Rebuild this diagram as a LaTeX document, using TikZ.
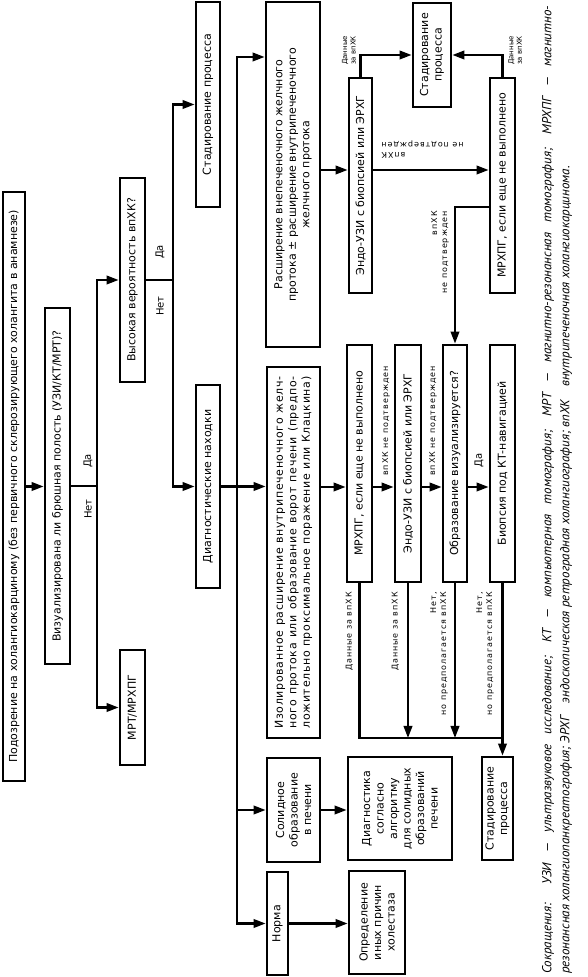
\documentclass[tikz,border=0pt]{standalone}
\usepackage{fontspec}
\setmainfont{DejaVu Sans}
\newfontfamily\lblfont[LetterSpace=12]{DejaVu Sans}
\newfontfamily\wideFont[LetterSpace=6]{DejaVu Sans}
\newfontfamily\notefont{PT Sans}
\usetikzlibrary{arrows.meta}
\tikzset{
  procBox/.style={draw,line width=2.8pt,inner sep=2pt,align=center,font=\fontsize{11}{13.5}\selectfont},
  sz/.style 2 args={minimum width=#1,minimum height=#2},
  flowLine/.style={line width=2.2pt},
  flowArrow/.style={flowLine,-{Triangle[length=12pt,width=8.5pt]}},
  decLbl/.style={inner sep=1pt,font=\fontsize{10}{12}\selectfont},
  tinyLbl/.style={inner sep=1pt,align=left,font=\lblfont\fontsize{8}{10}\selectfont},
  cornerLbl/.style={inner sep=1pt,align=left,font=\fontsize{7}{8.5}\selectfont}
}

\begin{document}
\begin{tikzpicture}[x=1pt,y=1pt,rotate=90,transform shape]
  \useasboundingbox (0,0) rectangle (977,587);

  % first levels
  \node[procBox,sz={589pt}{22pt}] (susp) at (490.5,573) {Подозрение на холангиокарциному (без первичного склерозирующего холангита в анамнезе)};
  \node[procBox,sz={356pt}{25pt}] (visQ) at (491,529.5) {Визуализирована ли брюшная полость (УЗИ/КТ/МРТ)?};
  \node[procBox,sz={204pt}{25pt}] (highQ) at (697,454.5) {Высокая вероятность впХК?};
  \node[procBox,sz={115pt}{25pt}] (mrt) at (269.5,454.5) {МРТ/МРХПГ};
  \node[procBox,sz={205pt}{24pt}] (stageA) at (872.5,379) {Стадирование процесса};
  \node[procBox,sz={203pt}{24pt}] (diag) at (490.5,379) {Диагностические находки};

  \coordinate (visJ) at (491,490);
  \draw[flowArrow] (susp.south) -- (susp.south |- visQ.north);
  \draw[flowLine] (visQ.south) -- (visJ);
  \draw[flowArrow] (visJ) -| (highQ.north);
  \draw[flowArrow] (visJ) -| (mrt.north);
  \node[decLbl] (visYes) at (516,499) {Да};
  \node[decLbl] (visNo) at (468,499) {Нет};

  \coordinate (highJ) at (697,414);
  \draw[flowLine] (highQ.south) -- (highJ);
  \draw[flowArrow] (highJ) -| (stageA.north);
  \draw[flowArrow] (highJ) -| (diag.north);
  \node[decLbl] (highYes) at (725,427) {Да};
  \node[decLbl] (highNo) at (671,427) {Нет};

  % findings
  \node[procBox,sz={345pt}{54pt}] (extDil) at (802.5,294) {Расширение внепеченочного желчного\\протока ± расширение внутрипеченочного\\желчного протока};
  \node[procBox,sz={371pt}{53pt},align=left,font=\wideFont\fontsize{11}{13.5}\selectfont] (isoDil) at (424.5,293.5) {\makebox[352pt][s]{Изолированное расширение внутрипеченочного желч-}\\\makebox[352pt][s]{ного протока или образование ворот печени (предпо-}\\\makebox[352pt][s]{ложительно проксимальное поражение или Клацкина)}};
  \node[procBox,sz={104pt}{53pt}] (solid) at (167,293.5) {Солидное\\образование\\в печени};
  \node[procBox,sz={103pt}{21pt}] (norm) at (53.5,309.5) {Норма};

  \coordinate (diagJ) at (490.5,350);
  \coordinate (extIn) at (920,350);
  \draw[flowLine] (diag.south) -- (diagJ);
  \draw[flowArrow] (diagJ) -- (extIn) -- (extIn |- extDil.north);
  \draw[flowArrow] (diagJ) -- (isoDil.north -| diagJ);
  \draw[flowArrow] (diagJ) -| (solid.north);
  \draw[flowArrow] (diagJ) -| (norm.north);

  % extrahepatic branch
  \node[procBox,sz={215pt}{23pt}] (eusA) at (791.5,226.5) {Эндо-УЗИ с биопсией или ЭРХГ};
  \node[procBox,sz={215pt}{25pt}] (mrcpA) at (791.5,84.5) {МРХПГ, если еще не выполнено};
  \node[procBox,sz={104pt}{38pt}] (stageB) at (922,155) {Стадирование\\процесса};

  \coordinate (extOut) at (807,0);
  \draw[flowArrow] (extDil.south -| extOut) -- (eusA.north -| extOut);
  \draw[flowArrow] (eusA.south -| extOut) -- (mrcpA.north -| extOut);
  \node[tinyLbl,rotate=90,align=right] (eusNeg) at (827,164.5) {впХК\\не подтвержден};
  \draw[flowArrow] (eusA.east) -| (stageB.north);
  \draw[flowArrow] (mrcpA.east) -| (stageB.south);
  \node[cornerLbl,anchor=south west] (eusPos) at (911,230) {Данные\\за впХК};
  \node[cornerLbl,anchor=north west] (mrcpPos) at (911,80) {Данные\\за впХК};

  % intrahepatic branch
  \node[procBox,sz={237pt}{25pt}] (mrcpB) at (513.5,227.5) {МРХПГ, если еще не выполнено};
  \node[procBox,sz={237pt}{26pt}] (eusB) at (513.5,179) {Эндо-УЗИ с биопсией или ЭРХГ};
  \node[procBox,sz={237pt}{24pt}] (massQ) at (513.5,132) {Образование визуализируется?};
  \node[procBox,sz={237pt}{25pt}] (ctBx) at (513.5,84.5) {Биопсия под КТ-навигацией};

  \coordinate (mrcpTurn) at (770,132);
  \draw[flowArrow] (mrcpA.north -| mrcpTurn) -- (mrcpTurn) -- (massQ.east);
  \node[tinyLbl,anchor=south east,align=right] (mrcpNeg) at (767,137) {впХК\\не подтвержден};

  \coordinate (midX) at (490,0);
  \draw[flowArrow] (isoDil.south -| midX) -- (mrcpB.north -| midX);
  \draw[flowArrow] (mrcpB.south -| midX) -- (eusB.north -| midX);
  \draw[flowArrow] (eusB.south -| midX) -- (massQ.north -| midX);
  \draw[flowArrow] (massQ.south -| midX) -- (ctBx.north -| midX);
  \node[tinyLbl,anchor=west] (mrcpBNeg) at (500,201) {впХК не подтвержден};
  \node[tinyLbl,anchor=west] (eusBNeg) at (500,154) {впХК не подтвержден};
  \node[decLbl,anchor=west] (massYes) at (508,108) {Да};

  % lower boxes
  \node[procBox,sz={103pt}{104pt}] (algo) at (168.5,187) {Диагностика\\согласно\\алгоритму\\для солидных\\образований\\печени};
  \node[procBox,sz={103pt}{56pt}] (otherCause) at (54.5,210) {Определение\\иных причин\\холестаза};
  \node[procBox,sz={103pt}{31pt}] (stageC) at (168.5,89.5) {Стадирование\\процесса};

  \coordinate (barX) at (239,0);
  \draw[flowLine] (mrcpB.west) -- (mrcpB.west -| barX) -- (ctBx.west -| barX);
  \draw[flowArrow] (eusB.west) -- (eusB.west -| barX);
  \draw[flowArrow] (massQ.west) -- (massQ.west -| barX);
  \draw[flowArrow] (ctBx.west) -- (ctBx.west -| stageC.east);
  \node[tinyLbl,anchor=south east] (mrcpBPos) at (386,233) {Данные за впХК};
  \node[tinyLbl,anchor=south east] (eusBPos) at (386,187) {Данные за впХК};
  \node[tinyLbl,anchor=south east,align=right] (massNo) at (386,138) {Нет,\\но предполагается впХК};
  \node[tinyLbl,anchor=south east,align=right] (ctNo) at (386,92) {Нет,\\но предполагается впХК};

  \draw[flowArrow] (solid.south) -- (solid.south |- algo.north);
  \draw[flowArrow] (norm.south) -- (norm.south |- otherCause.north);

  % abbreviations
  \node[anchor=west,inner sep=0pt,align=left,font=\notefont\itshape\fontsize{13}{18}\selectfont] (abbr) at (3,30) {\makebox[968pt][s]{Сокращения: УЗИ — ультразвуковое исследование; КТ — компьютерная томография; МРТ — магнитно-резонансная томография; МРХПГ — магнитно-}\\резонансная холангиопанкреатография; ЭРХГ\quad эндоскопическая ретроградная холангиография; впХК\quad внутрипеченочная холангиокарцинома.};
\end{tikzpicture}
\end{document}
